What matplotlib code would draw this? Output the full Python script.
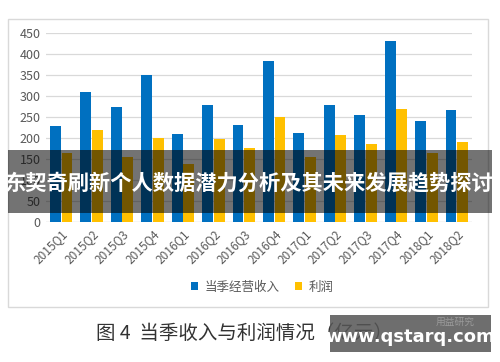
import numpy as np
import matplotlib
matplotlib.use('Agg')
import matplotlib.pyplot as plt
from matplotlib.patches import Rectangle

plt.rcParams['font.family'] = ['Noto Sans CJK SC', 'DejaVu Sans']

# data
quarters = ['2015Q1', '2015Q2', '2015Q3', '2015Q4', '2016Q1', '2016Q2', '2016Q3',
            '2016Q4', '2017Q1', '2017Q2', '2017Q3', '2017Q4', '2018Q1', '2018Q2']
revenue = [228, 310, 275, 349, 210, 278, 231, 383, 213, 278, 255, 432, 241, 266]
profit = [165, 219, 155, 200, 138, 197, 177, 250, 154, 208, 186, 268, 165, 190]
y_ticks = [0, 50, 100, 150, 200, 250, 300, 350, 400, 450]

W, H = 500, 362
fig = plt.figure(figsize=(W / 100, H / 100), dpi=100)
fig.patch.set_facecolor('white')

def fx(px):
    return px / W

def fy(py):
    return 1 - py / H

# outer chart frame
fig.patches.append(Rectangle((fx(8), fy(307)), fx(480), 288 / H, transform=fig.transFigure,
                             facecolor='white', edgecolor='#d9d9d9', lw=1, zorder=-1))

ax = fig.add_axes([fx(46), fy(222), fx(426), (222 - 33) / H])
ax.set_zorder(1)
x = np.arange(len(quarters))
w = 0.36
ax.bar(x - w / 2 - 0.01, revenue, w, color='#0070C0', zorder=3, label='当季经营收入')
ax.bar(x + w / 2 + 0.01, profit, w, color='#FFC000', zorder=3, label='利润')
ax.set_xlim(-0.5, len(quarters) - 0.5)
ax.set_ylim(0, 450)
ax.set_yticks(y_ticks)
ax.set_yticklabels([str(v) for v in y_ticks], color='#595959', fontsize=9)
ax.grid(axis='y', color='#d9d9d9', lw=0.9, zorder=0)
ax.set_xticks(x)
ax.set_xticklabels(quarters, rotation=45, ha='right', rotation_mode='anchor',
                   color='#595959', fontsize=8.5)
ax.tick_params(length=0, pad=4)
for s in ax.spines.values():
    s.set_visible(False)
ax.axhline(0, color='#d9d9d9', lw=0.9, zorder=2)
ax.patch.set_alpha(0)

fig.legend(loc='center', bbox_to_anchor=(fx(262), fy(287)), ncol=2, frameon=False,
           fontsize=9, handlelength=0.6, handleheight=0.6, columnspacing=1.2,
           handletextpad=0.5, labelcolor='#595959')

# dark banner with title
fig.patches.append(Rectangle((fx(8), fy(213)), fx(484), 63 / H, transform=fig.transFigure,
                             facecolor='black', alpha=0.55, edgecolor='none', zorder=10))
fig.text(fx(249), fy(183), '东契奇刷新个人数据潜力分析及其未来发展趋势探讨', color='white',
         fontsize=15.3, fontweight='bold', ha='center', va='center', zorder=11)

# caption
fig.text(fx(96), fy(333), '图 4  当季收入与利润情况（亿元）', color='#333333',
         fontsize=14, ha='left', va='center')

# watermark
fig.patches.append(Rectangle((fx(330), fy(352)), fx(161), 37 / H, transform=fig.transFigure,
                             facecolor='#555555', alpha=0.85, edgecolor='none', zorder=10))
fig.text(fx(475), fy(322), '用益研究', color='#9a9a9a', fontsize=7, ha='right', va='center', zorder=11)
fig.text(fx(410), fy(337), 'www.qstarq.com', color='white', fontsize=13, fontweight='bold',
         family='DejaVu Sans', ha='center', va='center', zorder=11)

fig.savefig('out.png', dpi=100)
